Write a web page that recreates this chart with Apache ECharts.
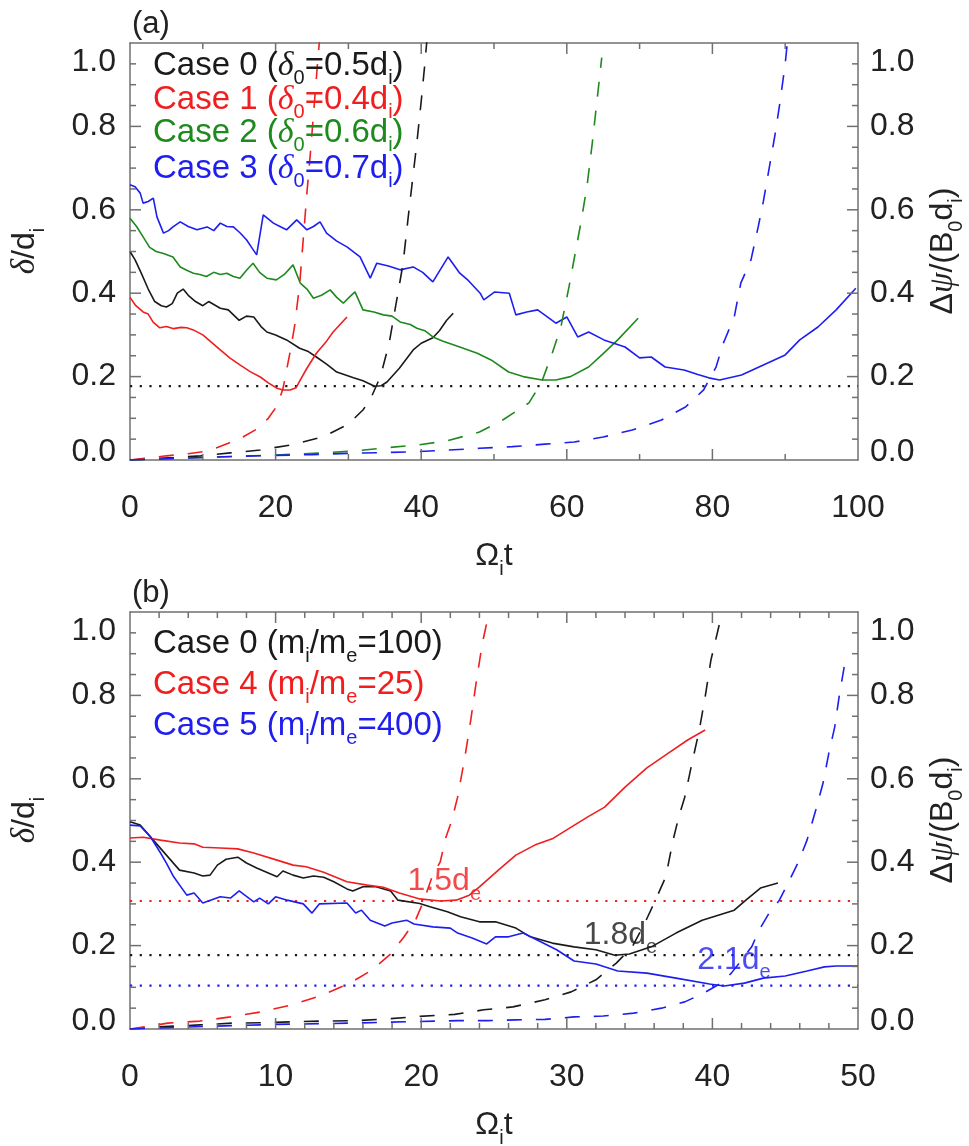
<!DOCTYPE html>
<html><head><meta charset="utf-8">
<script src="https://cdn.jsdelivr.net/npm/echarts@6/dist/echarts.min.js"></script>
<style>html,body{margin:0;padding:0;background:#fff}#c{width:969px;height:1146px}</style>
</head><body><div id="c"></div>
<script>
// ---------------- Panel (a): delta/d_i (solid) ----------------
const a_case0_t = [0,0.7,1.5,2.5,3.4,4.3,5,5.8,6.5,7.3,8,9,10,10.8,12.4,13.5,15,16,17,18,18.8,20,21.5,23.3,24.5,25.6,27,28.4,30.7,32,33.6,34.5,35.3,37,38.9,40,41.6,42.5,43.5,44.4];
const a_case0_delta = [0.50,0.48,0.45,0.41,0.38,0.37,0.367,0.375,0.40,0.41,0.395,0.38,0.37,0.38,0.364,0.36,0.335,0.345,0.343,0.32,0.307,0.30,0.288,0.268,0.26,0.247,0.23,0.211,0.197,0.19,0.177,0.178,0.187,0.22,0.264,0.28,0.293,0.31,0.335,0.352];

const a_case1_t = [0,0.8,1.8,2.5,3.2,4.1,5,6,7,7.8,8.7,10,11,12.4,13.7,15.1,16.5,17.9,19,20.2,21,22,22.8,23.4,24.3,25.6,27,27.9,29.8];
const a_case1_delta = [0.39,0.37,0.355,0.35,0.33,0.317,0.32,0.315,0.318,0.317,0.312,0.30,0.285,0.264,0.245,0.228,0.212,0.199,0.185,0.172,0.168,0.168,0.173,0.192,0.22,0.256,0.285,0.307,0.343];

const a_case2_t = [0,0.9,1.8,2.7,3.6,4.6,5.9,6.9,7.8,8.7,9.6,10.5,11.5,12.4,13.3,14.2,15.1,16,16.9,17.8,18.8,20.1,21.2,22.4,23.4,24.3,25.2,26.3,27.5,28.4,29.3,30.1,30.9,32,33.5,34.8,36,37.1,38.5,39.4,40.5,41.6,43,45.3,47.7,49.6,52,54,56.6,58.5,60.5,63,65,67,69.8];
const a_case2_delta = [0.58,0.56,0.535,0.51,0.5,0.495,0.487,0.463,0.455,0.448,0.445,0.44,0.45,0.445,0.448,0.44,0.436,0.455,0.472,0.45,0.436,0.432,0.445,0.468,0.424,0.41,0.388,0.395,0.408,0.39,0.376,0.39,0.403,0.36,0.355,0.348,0.345,0.331,0.325,0.316,0.31,0.295,0.285,0.271,0.256,0.24,0.211,0.2,0.192,0.192,0.2,0.223,0.255,0.288,0.34];

const a_case3_t = [0,0.7,1.4,1.8,2.5,3.2,3.7,4.6,5.3,5.9,6.9,8,9.2,10.6,11.5,12.4,13.3,14.2,15.1,16,16.7,17.4,18.3,19.7,20.6,21.5,22.9,24.3,25.2,26.1,27,28.4,29.8,31.6,33,33.9,35.5,37.1,38.9,40.2,41.6,43.7,45.3,46.5,48.1,48.6,50.1,52.1,53,54.5,56,58.5,60,61.5,63,65.1,68,70,71.6,73.5,76.1,78,79.5,81,84,87,90,92,94.5,97,99.7];
const a_case3_delta = [0.66,0.655,0.64,0.616,0.62,0.628,0.583,0.544,0.55,0.559,0.571,0.56,0.552,0.559,0.55,0.568,0.56,0.559,0.545,0.528,0.51,0.492,0.588,0.568,0.56,0.552,0.576,0.552,0.56,0.571,0.544,0.525,0.511,0.487,0.436,0.472,0.465,0.456,0.463,0.45,0.427,0.487,0.448,0.43,0.4,0.384,0.403,0.4,0.348,0.355,0.36,0.328,0.343,0.295,0.307,0.288,0.271,0.245,0.247,0.223,0.216,0.205,0.197,0.192,0.204,0.228,0.252,0.288,0.319,0.36,0.412];

// ---------------- Panel (a): delta psi (dashed) ----------------
const a_case0_psi_t = [0,3,6,9.7,13.8,17.9,22.4,26.6,30,32,33,34.4,35.6,36.5,37.5,38.2,38.8,39.4,40,40.5,40.8];
const a_case0_psi = [0,0.003,0.006,0.01,0.017,0.024,0.037,0.056,0.086,0.12,0.145,0.2,0.28,0.37,0.47,0.58,0.67,0.76,0.86,0.95,1.01];
const a_case1_psi_t = [0,2,5,8,10,12,13.5,15.5,17.5,19,20.2,21,22,22.6,23.3,23.8,24.3,24.8,25.3,25.8,26.1];
const a_case1_psi = [0,0.004,0.01,0.015,0.02,0.03,0.04,0.055,0.075,0.1,0.13,0.17,0.26,0.32,0.42,0.53,0.64,0.74,0.85,0.96,1.02];
const a_case2_psi_t = [0,5,10,15,20,22.5,26.6,31,35,39.5,43.6,48,51.2,54.8,56.5,58,59.2,60.3,61.2,62,62.8,63.5,64.2,64.8];
const a_case2_psi = [0,0.003,0.006,0.009,0.012,0.014,0.017,0.022,0.029,0.036,0.046,0.067,0.096,0.137,0.185,0.256,0.32,0.415,0.5,0.575,0.66,0.76,0.87,0.965];
const a_case3_psi_t = [0,5,10,15,20,25,30,35,39.3,43.8,48,52.5,57,61,65,69,73,76.3,78.8,80.5,81.5,83,83.9,85.3,86.3,87,87.8,88.6,89.3,90,90.4];
const a_case3_psi = [0,0.003,0.006,0.009,0.011,0.013,0.016,0.018,0.02,0.024,0.028,0.032,0.038,0.043,0.055,0.072,0.096,0.127,0.168,0.223,0.28,0.343,0.424,0.48,0.56,0.62,0.70,0.78,0.86,0.95,1.02];

// threshold (dotted) in panel (a)
const a_threshold = 0.177;

// ---------------- Panel (b): delta/d_i (solid) ----------------
const b_case0_t = [0,0.7,1.6,2.5,3.4,4.4,5,5.5,6,6.6,7.4,8,8.7,10.1,10.5,11.2,11.9,12.6,13.3,14,14.9,15.3,16,16.9,17.9,18.4,19.9,20.6,21.8,22.7,24,25.1,26.5,27.5,29,30.5,32,33.3,34.3,35.8,37.5,39.3,41.5,42.3,43.3,44.5];
const b_case0_delta = [0.497,0.489,0.453,0.417,0.381,0.374,0.367,0.369,0.393,0.407,0.412,0.398,0.386,0.365,0.379,0.369,0.362,0.367,0.364,0.353,0.336,0.331,0.341,0.341,0.331,0.309,0.301,0.293,0.281,0.269,0.257,0.257,0.242,0.221,0.206,0.197,0.19,0.177,0.18,0.197,0.23,0.261,0.285,0.309,0.338,0.35];

const b_case4_t = [0,0.9,2.1,3.4,4.4,5,6.2,7.4,8.5,10.1,11.2,12.1,13.3,14.9,16.3,17.4,18.5,19.9,21.3,22.4,23.3,24,25.3,26.5,27.8,29,30.3,31.5,32.6,34,35.5,37,38.3,39.5];
const b_case4_delta = [0.458,0.46,0.453,0.446,0.444,0.436,0.434,0.432,0.422,0.405,0.393,0.389,0.376,0.353,0.345,0.34,0.326,0.312,0.307,0.309,0.321,0.341,0.381,0.417,0.441,0.456,0.484,0.51,0.532,0.58,0.626,0.662,0.693,0.717];

const b_case5_t = [0,0.7,1.4,2.1,2.5,3,3.9,4.4,5,6.2,6.9,7.5,8.5,8.9,9.5,10,10.8,11.9,12.5,13,14.9,15.5,15.9,16.5,17.5,18,19,19.5,20.8,22,22.5,23.5,24.5,25.1,26,27,28,29.3,30.5,32,33.5,35.5,37.5,39.8,40.8,42.2,43.5,45,46.5,47.7,48.5,50];
const b_case5_delta = [0.489,0.487,0.461,0.422,0.398,0.365,0.321,0.326,0.302,0.317,0.314,0.331,0.305,0.314,0.3,0.317,0.309,0.3,0.278,0.3,0.302,0.278,0.285,0.261,0.247,0.254,0.261,0.252,0.245,0.242,0.23,0.218,0.204,0.221,0.221,0.23,0.213,0.19,0.163,0.156,0.139,0.134,0.122,0.108,0.103,0.11,0.122,0.127,0.139,0.149,0.151,0.151];

// ---------------- Panel (b): delta psi (dashed) ----------------
const b_case0_psi_t = [0,2,4.8,7,9,11,13.2,15.5,17.6,19.8,22.3,24.3,26.3,28.5,30.3,32,33.4,34.5,35.3,36,36.8,37.3,37.7,38.1,38.6,39.1,39.5,39.9,40.5];
const b_case0_psi = [0,0.005,0.01,0.014,0.015,0.017,0.019,0.02,0.024,0.03,0.035,0.046,0.053,0.07,0.089,0.118,0.158,0.197,0.25,0.302,0.365,0.453,0.51,0.556,0.638,0.717,0.796,0.885,0.974];
const b_case4_psi_t = [0,1,2.6,4.8,6.9,9,11,13.1,15.1,16.6,17.9,18.8,19.6,20.2,20.8,21.3,21.7,22.1,22.5,23,23.4,23.8,24.2,24.6,25];
const b_case4_psi = [0,0.005,0.014,0.019,0.029,0.041,0.057,0.08,0.11,0.141,0.18,0.22,0.26,0.31,0.37,0.40,0.46,0.50,0.556,0.652,0.74,0.837,0.925,0.99,1.05];
const b_case5_psi_t = [0,5,10,15,19.8,22.5,24.5,26.5,28.5,30.5,32.5,34.6,36.5,38.1,39.4,40.6,41.3,42,42.7,43.2,43.9,44.6,45.2,45.9,46.5,47.1,47.6,48,48.4,48.7,49.05,49.5];
const b_case5_psi = [0,0.006,0.011,0.014,0.018,0.02,0.02,0.022,0.023,0.029,0.031,0.038,0.05,0.065,0.086,0.11,0.134,0.165,0.197,0.237,0.278,0.309,0.35,0.40,0.453,0.525,0.59,0.662,0.724,0.796,0.868,0.89];

// thresholds (dotted) in panel (b): case 4, case 0, case 5
const b_thresholds = [0.307, 0.177, 0.104];
const b_annot_text = ['1.5d', '1.8d', '2.1d'];
const b_annot_t = [19.1, 31.2, 39.0];
const b_annot_v = [0.353, 0.225, 0.165];

// axes: ranges, label steps and minor-tick steps
const a_xmax = 100, a_xstep = 20, a_xminor = 10;
const b_xmax = 50, b_xstep = 10, b_xminor = 2;
const y_max = 1.0, y_step = 0.2, y_minor = 0.05;

// ---------------- chart ----------------
const FONT = '"Liberation Sans", Arial, Helvetica, sans-serif';
const GREEK = '"Liberation Serif", "DejaVu Serif", serif';
const C = {k: '#1a1a1a', r: '#f01e1e', g: '#1e8a1e', b: '#1e1ef0'};
const AXC = '#707070';
const TXT = '#222222';
const LBL = 32, LEG = 33;
const MAJ_LEN = 11, MIN_LEN = 6;

const zip = (t, v) => t.map((x, i) => [x, v[i]]);

// tick rows: [side (0 bottom,1 top,2 left,3 right), value, isMajor]
function tickRows(max, majorStep, minorStep, sides) {
  const rows = [];
  const n = Math.round(max / minorStep);
  for (let k = 1; k < n; k++) {
    const v = k * minorStep;
    const r = v / majorStep;
    const major = Math.abs(r - Math.round(r)) < 1e-6 ? 1 : 0;
    sides.forEach(s => rows.push([s, +v.toFixed(4), major]));
  }
  return rows;
}

function rich(color, size) {
  return {
    n: {fontFamily: FONT, fontSize: size, color: color, verticalAlign: 'top', lineHeight: size},
    g: {fontFamily: GREEK, fontStyle: 'italic', fontSize: size + 1, color: color, verticalAlign: 'top', lineHeight: size},
    s: {fontFamily: FONT, fontSize: Math.round(size * 0.62), color: color, lineHeight: Math.round(size * 1.8), verticalAlign: 'middle'}
  };
}

function xAx(grid, max, step, pos) {
  return {
    type: 'value', gridIndex: grid, position: pos, min: 0, max: max, interval: step,
    axisLine: {show: true, onZero: false, lineStyle: {color: AXC, width: 1.5}},
    axisTick: {show: false}, minorTick: {show: false},
    splitLine: {show: false}, minorSplitLine: {show: false},
    axisLabel: {show: pos === 'bottom', fontFamily: FONT, fontSize: LBL, color: TXT, margin: 32, hideOverlap: false}
  };
}
function yAx(grid, pos) {
  return {
    type: 'value', gridIndex: grid, position: pos, min: 0, max: y_max, interval: y_step,
    axisLine: {show: true, onZero: false, lineStyle: {color: AXC, width: 1.5}},
    axisTick: {show: false}, minorTick: {show: false},
    splitLine: {show: false}, minorSplitLine: {show: false},
    axisLabel: {show: true, fontFamily: FONT, fontSize: LBL, color: TXT, margin: pos === 'left' ? 14 : 12,
      formatter: v => v === 0 ? '{lo|0.0}' : (v === y_max ? '{hi|' + v.toFixed(1) + '}' : v.toFixed(1)),
      rich: {lo: {fontFamily: FONT, fontSize: LBL, color: TXT, lineHeight: 16},
             hi: {fontFamily: FONT, fontSize: LBL, color: TXT, lineHeight: 38}},
      hideOverlap: false,
      verticalAlignMinLabel: 'bottom', verticalAlignMaxLabel: 'top'}
  };
}

function ticks(xi, rows) {
  return {
    type: 'custom', xAxisIndex: xi, yAxisIndex: xi, data: rows, clip: false, z: 5, silent: true, animation: false,
    renderItem: function (params, api) {
      const side = api.value(0), val = api.value(1), len = api.value(2) ? MAJ_LEN : MIN_LEN;
      const cs = params.coordSys;
      let x1, y1, x2, y2;
      if (side < 2) {
        const px = api.coord([val, 0])[0];
        y1 = side === 0 ? cs.y + cs.height : cs.y;
        y2 = side === 0 ? y1 - len : y1 + len;
        x1 = x2 = px;
      } else {
        const py = api.coord([0, val])[1];
        x1 = side === 2 ? cs.x : cs.x + cs.width;
        x2 = side === 2 ? x1 + len : x1 - len;
        y1 = y2 = py;
      }
      return {type: 'line', shape: {x1: x1, y1: y1, x2: x2, y2: y2}, style: {stroke: AXC, lineWidth: 1.5}};
    }
  };
}

function solid(xi, t, v, color) {
  return {type: 'line', xAxisIndex: xi, yAxisIndex: xi, data: zip(t, v), showSymbol: false, symbol: 'none',
    lineStyle: {color: color, width: 1.6}, z: 3, animation: false};
}
function dashed(xi, t, v, color) {
  return {type: 'line', xAxisIndex: xi, yAxisIndex: xi, data: zip(t, v), showSymbol: false, symbol: 'none', smooth: false,
    lineStyle: {color: color, width: 1.6, type: [15, 14]}, z: 4, animation: false};
}
function dotted(xi, xmax, val, color) {
  return {type: 'line', xAxisIndex: xi, yAxisIndex: xi, data: [[0, val], [xmax, val]], showSymbol: false, symbol: 'none',
    lineStyle: {color: color, width: 2.2, type: [2.2, 7.5]}, z: 2, animation: false};
}
function annot(i, color) {
  return {type: 'scatter', xAxisIndex: 2, yAxisIndex: 2, symbolSize: 1, itemStyle: {color: 'rgba(0,0,0,0)'},
    data: [[b_annot_t[i], b_annot_v[i]]], z: 6, animation: false, silent: true,
    label: {show: true, position: [0, -16], align: 'left', verticalAlign: 'top',
      formatter: '{n|' + b_annot_text[i] + '}{s|e}', rich: rich(color, 32)}};
}

function legendLine(x, y, str, color) {
  return {type: 'text', x: x, y: y, z: 10,
    style: {text: str, rich: rich(color, LEG), fontFamily: FONT, fontSize: LEG, fill: color,
      align: 'left', verticalAlign: 'top', textAlign: 'left', textVerticalAlign: 'top'}};
}
function titleText(x, y, str, rot) {
  return {type: 'text', x: x, y: y, rotation: rot, z: 10,
    style: {text: str, rich: rich(TXT, 32), fontFamily: FONT, fontSize: 32, fill: TXT,
      align: 'center', verticalAlign: 'top', textAlign: 'center', textVerticalAlign: 'top'}};
}
function plainText(x, y, str) {
  return {type: 'text', x: x, y: y, z: 10,
    style: {text: str, fontFamily: FONT, fontSize: 31, fill: TXT,
      align: 'left', verticalAlign: 'middle', textAlign: 'left', textVerticalAlign: 'middle'}};
}

const a_tickRows = tickRows(a_xmax, a_xstep, a_xminor, [0, 1]).concat(tickRows(y_max, y_step, y_minor, [2, 3]));
const b_tickRows = tickRows(b_xmax, b_xstep, b_xminor, [0, 1]).concat(tickRows(y_max, y_step, y_minor, [2, 3]));

const chart = echarts.init(document.getElementById('c'), null, {renderer: 'canvas'});
chart.setOption({
  animation: false,
  backgroundColor: '#ffffff',
  grid: [
    {left: 130, top: 43, width: 728, height: 417, containLabel: false, outerBoundsMode: 'none'},
    {left: 130, top: 612, width: 728, height: 417, containLabel: false, outerBoundsMode: 'none'}
  ],
  xAxis: [
    xAx(0, a_xmax, a_xstep, 'bottom'), xAx(0, a_xmax, a_xstep, 'top'),
    xAx(1, b_xmax, b_xstep, 'bottom'), xAx(1, b_xmax, b_xstep, 'top')
  ],
  yAxis: [yAx(0, 'left'), yAx(0, 'right'), yAx(1, 'left'), yAx(1, 'right')],
  series: [
    ticks(0, a_tickRows),
    dotted(0, a_xmax, a_threshold, C.k),
    solid(0, a_case0_t, a_case0_delta, C.k),
    solid(0, a_case1_t, a_case1_delta, C.r),
    solid(0, a_case2_t, a_case2_delta, C.g),
    solid(0, a_case3_t, a_case3_delta, C.b),
    dashed(0, a_case0_psi_t, a_case0_psi, C.k),
    dashed(0, a_case1_psi_t, a_case1_psi, C.r),
    dashed(0, a_case2_psi_t, a_case2_psi, C.g),
    dashed(0, a_case3_psi_t, a_case3_psi, C.b),

    ticks(2, b_tickRows),
    dotted(2, b_xmax, b_thresholds[0], C.r),
    dotted(2, b_xmax, b_thresholds[1], C.k),
    dotted(2, b_xmax, b_thresholds[2], C.b),
    solid(2, b_case0_t, b_case0_delta, C.k),
    solid(2, b_case4_t, b_case4_delta, C.r),
    solid(2, b_case5_t, b_case5_delta, C.b),
    dashed(2, b_case0_psi_t, b_case0_psi, C.k),
    dashed(2, b_case4_psi_t, b_case4_psi, C.r),
    dashed(2, b_case5_psi_t, b_case5_psi, C.b),
    annot(0, C.r), annot(1, C.k), annot(2, C.b)
  ],
  graphic: [
    plainText(132, 24, '(a)'),
    plainText(132, 593, '(b)'),
    legendLine(153, 49, '{n|Case 0 (}{g|δ}{s|0}{n|=0.5d}{s|i}{n|)}', C.k),
    legendLine(153, 83, '{n|Case 1 (}{g|δ}{s|0}{n|=0.4d}{s|i}{n|)}', C.r),
    legendLine(153, 116, '{n|Case 2 (}{g|δ}{s|0}{n|=0.6d}{s|i}{n|)}', C.g),
    legendLine(153, 152, '{n|Case 3 (}{g|δ}{s|0}{n|=0.7d}{s|i}{n|)}', C.b),
    legendLine(153, 627, '{n|Case 0 (m}{s|i}{n|/m}{s|e}{n|=100)}', C.k),
    legendLine(153, 668, '{n|Case 4 (m}{s|i}{n|/m}{s|e}{n|=25)}', C.r),
    legendLine(153, 709, '{n|Case 5 (m}{s|i}{n|/m}{s|e}{n|=400)}', C.b),
    titleText(9, 251, '{g|δ}{n|/d}{s|i}', Math.PI / 2),
    titleText(9, 820, '{g|δ}{n|/d}{s|i}', Math.PI / 2),
    titleText(927, 251, '{n|Δ}{g|ψ}{n|/(B}{s|0}{n|d}{s|i}{n|)}', Math.PI / 2),
    titleText(927, 820, '{n|Δ}{g|ψ}{n|/(B}{s|0}{n|d}{s|i}{n|)}', Math.PI / 2),
    titleText(494, 540, '{n|Ω}{s|i}{n|t}', 0),
    titleText(494, 1109, '{n|Ω}{s|i}{n|t}', 0)
  ]
});
</script></body></html>
